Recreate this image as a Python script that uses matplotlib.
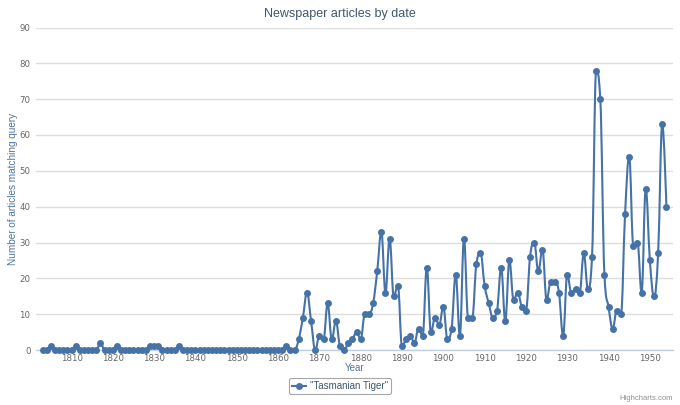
import matplotlib
matplotlib.use("Agg")
import matplotlib.pyplot as plt
from matplotlib.path import Path
from matplotlib.patches import PathPatch
from matplotlib.lines import Line2D
import numpy as np

# ---- data ----
start_year = 1803
counts = [
    # 1803-1809
    0, 0, 1, 0, 0, 0, 0,
    # 1810-1819
    0, 1, 0, 0, 0, 0, 0, 2, 0, 0,
    # 1820-1829
    0, 1, 0, 0, 0, 0, 0, 0, 0, 1,
    # 1830-1839
    1, 1, 0, 0, 0, 0, 1, 0, 0, 0,
    # 1840-1849
    0, 0, 0, 0, 0, 0, 0, 0, 0, 0,
    # 1850-1859
    0, 0, 0, 0, 0, 0, 0, 0, 0, 0,
    # 1860-1869
    0, 0, 1, 0, 0, 3, 9, 16, 8, 0,
    # 1870-1879
    4, 3, 13, 3, 8, 1, 0, 2, 3, 5,
    # 1880-1889
    3, 10, 10, 13, 22, 33, 16, 31, 15, 18,
    # 1890-1899
    1, 3, 4, 2, 6, 4, 23, 5, 9, 7,
    # 1900-1909
    12, 3, 6, 21, 4, 31, 9, 9, 24, 27,
    # 1910-1919
    18, 13, 9, 11, 23, 8, 25, 14, 16, 12,
    # 1920-1929
    11, 26, 30, 22, 28, 14, 19, 19, 16, 4,
    # 1930-1939
    21, 16, 17, 16, 27, 17, 26, 78, 70, 21,
    # 1940-1949
    12, 6, 11, 10, 38, 54, 29, 30, 16, 45,
    # 1950-1954
    25, 15, 27, 63, 40,
]
years = list(range(start_year, start_year + len(counts)))
series_name = '"Tasmanian Tiger"'
title_text = "Newspaper articles by date"
x_title = "Year"
y_title = "Number of articles matching query"
x_ticks = list(range(1810, 1951, 10))
y_ticks = list(range(0, 91, 10))

LINE_COLOR = "#4572A7"


def spline_path(xs, ys, smoothing=1.5):
    """Highcharts-like spline path through the data points."""
    xs = np.asarray(xs, float)
    ys = np.asarray(ys, float)
    n = len(xs)
    denom = smoothing + 1
    lc = [(xs[i], ys[i]) for i in range(n)]
    rc = [(xs[i], ys[i]) for i in range(n)]
    for i in range(1, n - 1):
        px, py = xs[i], ys[i]
        lx, ly = xs[i - 1], ys[i - 1]
        nx, ny = xs[i + 1], ys[i + 1]
        lcx = (smoothing * px + lx) / denom
        lcy = (smoothing * py + ly) / denom
        rcx = (smoothing * px + nx) / denom
        rcy = (smoothing * py + ny) / denom
        correction = ((rcy - lcy) * (rcx - px)) / (rcx - lcx) + py - rcy
        lcy += correction
        rcy += correction
        if lcy > ly and lcy > py:
            lcy = max(ly, py)
            rcy = 2 * py - lcy
        elif lcy < ly and lcy < py:
            lcy = min(ly, py)
            rcy = 2 * py - lcy
        if rcy > ny and rcy > py:
            rcy = max(ny, py)
            lcy = 2 * py - rcy
        elif rcy < ny and rcy < py:
            rcy = min(ny, py)
            lcy = 2 * py - rcy
        lc[i] = (lcx, lcy)
        rc[i] = (rcx, rcy)
    verts = [(xs[0], ys[0])]
    codes = [Path.MOVETO]
    for i in range(1, n):
        verts += [rc[i - 1], lc[i], (xs[i], ys[i])]
        codes += [Path.CURVE4] * 3
    return Path(verts, codes)


plt.rcParams["font.family"] = ["Liberation Sans", "DejaVu Sans"]

fig = plt.figure(figsize=(6.8, 4.05), dpi=100)
ax = fig.add_axes([36 / 680, 1 - 350 / 405, (673 - 36) / 680, (350 - 27.5) / 405])

ax.set_xlim(1801.4, 1955.6)
ax.set_ylim(0, 90)

# grid
ax.set_yticks(y_ticks)
ax.set_xticks(x_ticks)
ax.yaxis.grid(True, color="#DDDDDD", linewidth=1.0)
ax.set_axisbelow(True)
for s in ["top", "right", "left"]:
    ax.spines[s].set_visible(False)
ax.spines["bottom"].set_color("#C0D0E0")
ax.spines["bottom"].set_linewidth(1.0)
ax.tick_params(axis="both", length=0, labelsize=6.2, labelcolor="#666666")
for lab in ax.get_xticklabels() + ax.get_yticklabels():
    lab.set_family("DejaVu Sans")
ax.tick_params(axis="x", pad=3)
ax.tick_params(axis="y", pad=4)

# series
path = spline_path(years, counts)
patch = PathPatch(path, facecolor="none", edgecolor=LINE_COLOR, linewidth=1.5,
                  capstyle="round", joinstyle="round", clip_on=False, zorder=3)
ax.add_patch(patch)
ax.plot(years, counts, linestyle="none", marker="o", markersize=5.0,
        color=LINE_COLOR, markeredgewidth=0, clip_on=False, zorder=4)

# titles
fig.text(0.5, 1 - 14 / 405, title_text, ha="center", va="center",
         fontsize=9, color="#3E576F")
ax.set_xlabel(x_title, fontsize=7, color="#4D759E", labelpad=0)
ax.set_ylabel(y_title, fontsize=7.2, color="#4D759E")
ax.yaxis.set_label_coords(-0.029, 0.5)

# legend
handle = Line2D([], [], color=LINE_COLOR, linewidth=1.5, marker="o",
                markersize=5.0, markeredgewidth=0)
leg = fig.legend([handle], [series_name], loc="center",
                 bbox_to_anchor=(340 / 680, 1 - 386 / 405), fontsize=7,
                 frameon=True, fancybox=True, handlelength=1.4,
                 handletextpad=0.4, borderpad=0.3, borderaxespad=0)
leg.get_frame().set_edgecolor("#909090")
leg.get_frame().set_linewidth(0.8)
for t in leg.get_texts():
    t.set_color("#3E576F")

# credits
fig.text(673 / 680, 1 - 399 / 405, "Highcharts.com", ha="right", va="center",
         fontsize=5.5, color="#909090")

fig.savefig("out.png", dpi=100)
